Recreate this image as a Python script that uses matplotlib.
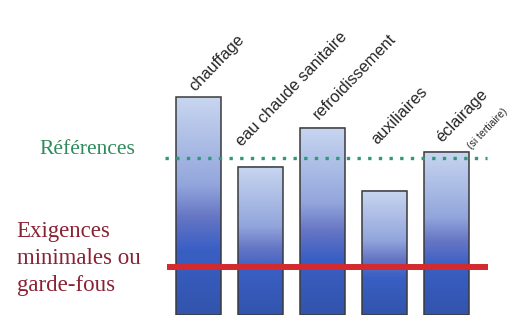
import matplotlib.pyplot as plt
import numpy as np
from matplotlib.colors import LinearSegmentedColormap

# data
categories = ['chauffage', 'eau chaude sanitaire', 'refroidissement', 'auxiliaires', 'éclairage']
values = [100, 68, 86, 57, 75]
reference_level = 72
minimum_level = 22
ref_label = 'Références'
min_label = 'Exigences\nminimales ou\ngarde-fous'

# where each rotated label starts (x shift from bar centre, height)
label_dx = [-0.06, -0.29, -0.05, -0.12, -0.07]
label_y = [102.3, 77.1, 89.4, 78.0, 78.9]

fig = plt.figure(figsize=(5.14, 3.15), dpi=100)
ax = fig.add_axes([0, 0, 1, 1])
ax.set_xlim(-3.2, 5.09)
ax.set_ylim(0, 144.5)
ax.axis('off')

cmap = LinearSegmentedColormap.from_list(
    'bars', [(0.0, '#3254ad'), (0.3, '#3a5fc4'), (0.45, '#6676c4'),
             (0.6, '#93a6dc'), (1.0, '#c8d6f0')])
grad = np.linspace(0, 1, 256).reshape(-1, 1)

width = 0.72
x = np.arange(len(categories))
for xi, v in zip(x, values):
    ax.imshow(grad, cmap=cmap, aspect='auto', origin='lower',
              extent=(xi - width / 2, xi + width / 2, 0, v), zorder=1)
    ax.add_patch(plt.Rectangle((xi - width / 2, 0), width, v, fill=False,
                               edgecolor='#3a3a3a', lw=1.1, zorder=2))

for xi, dx, ly, name in zip(x, label_dx, label_y, categories):
    ax.text(xi + dx, ly, name, rotation=46, rotation_mode='anchor',
            ha='left', va='baseline', fontsize=11.8, family='Liberation Sans',
            color='#262626', zorder=3)
# small second line under "éclairage"
ax.text(x[-1] + 0.4, 75.7, '(si tertiaire)', rotation=46,
        rotation_mode='anchor', ha='left', va='baseline', fontsize=7.5,
        family='Liberation Sans', color='#262626', zorder=3)

ax.plot([-0.54, 4.65], [reference_level, reference_level], color='#2a9a78',
        lw=2.4, linestyle=(0, (1, 2.2)), zorder=4)
ax.plot([-0.51, 4.67], [minimum_level, minimum_level], color='#d42a2e',
        lw=4.3, solid_capstyle='butt', zorder=4)

ax.text(-2.56, 76, ref_label, ha='left', va='center',
        fontsize=15.5, family='Liberation Serif', color='#2e8a5c')
ax.text(-2.93, 26.1, min_label, ha='left', va='center', fontsize=16.5,
        family='Liberation Serif', color='#8a2234', linespacing=1.38)

fig.savefig('out.png', dpi=100, facecolor='white')
